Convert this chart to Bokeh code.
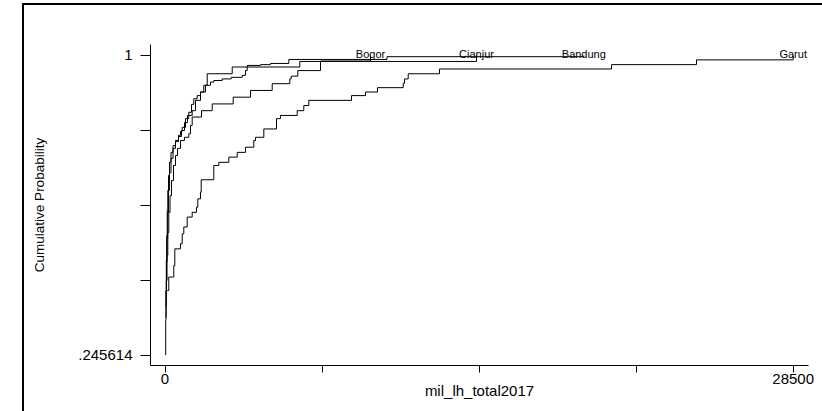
from bokeh.plotting import figure
from bokeh.models import FixedTicker, Range1d, InlineStyleSheet
from bokeh.embed import file_html
from bokeh.resources import INLINE
from bokeh.core.properties import value

# ---- data ----
districts = ["Bogor", "Cianjur", "Bandung", "Garut"]

bogor_x = [36, 59, 91, 127, 172, 227, 295, 386, 476, 567, 703, 885, 1080, 1157, 1234,
           1656, 2141, 3094, 3879, 4864, 5662, 5726, 6025, 7055, 9324]
bogor_y = [0.370, 0.433, 0.496, 0.554, 0.605, 0.647, 0.685, 0.723, 0.748, 0.766, 0.786,
           0.794, 0.803, 0.824, 0.845, 0.861, 0.878, 0.895, 0.912, 0.929, 0.941, 0.948,
           0.962, 0.986, 1.0]

cianjur_x = [32, 50, 68, 91, 122, 159, 204, 272, 363, 476, 613, 749, 885, 1021, 1234,
             1384, 1611, 1838, 2064, 2214, 2595, 3003, 3503, 3652, 3729, 6116, 14133]
cianjur_y = [0.340, 0.408, 0.479, 0.539, 0.605, 0.660, 0.705, 0.741, 0.766, 0.783, 0.796,
             0.811, 0.831, 0.849, 0.861, 0.887, 0.908, 0.925, 0.933, 0.937, 0.941, 0.945,
             0.950, 0.962, 0.971, 0.985, 1.0]

bandung_x = [23, 32, 45, 59, 77, 100, 127, 159, 204, 272, 363, 476, 613, 703, 780, 930,
             1080, 1202, 1307, 1461, 1611, 1760, 1915, 3049, 3729, 4333, 4787, 5617,
             10072, 19001]
bandung_y = [0.245614, 0.333, 0.408, 0.484, 0.547, 0.610, 0.660, 0.698, 0.731, 0.756,
             0.773, 0.786, 0.799, 0.809, 0.819, 0.841, 0.857, 0.877, 0.891, 0.899, 0.908,
             0.925, 0.954, 0.971, 0.975, 0.977, 0.980, 0.990, 0.997, 1.0]

garut_x = [100, 172, 399, 445, 703, 780, 853, 1007, 1234, 1429, 1488, 1611, 1642, 2214,
           2441, 2895, 3276, 3652, 4029, 4106, 4483, 5059, 5240, 5998, 6297, 6524, 8461,
           9097, 9641, 10807, 10866, 11034, 12454, 20258, 24114, 28500]
garut_y = [0.408, 0.442, 0.471, 0.513, 0.526, 0.551, 0.568, 0.593, 0.605, 0.618, 0.639,
           0.656, 0.687, 0.723, 0.731, 0.744, 0.756, 0.769, 0.786, 0.794, 0.815, 0.841,
           0.849, 0.861, 0.874, 0.887, 0.899, 0.908, 0.919, 0.930, 0.941, 0.954, 0.966,
           0.977, 0.989, 1.0]

series_x = [bogor_x, cianjur_x, bandung_x, garut_x]
series_y = [bogor_y, cianjur_y, bandung_y, garut_y]

y_major = [0.245614, 1.0]
y_major_labels = [".245614", "1"]
y_minor = [0.434211, 0.622807, 0.811404]
x_major = [0, 28500]
x_major_labels = ["0", "28500"]
x_minor = [7125, 14250, 21375]

x_title = "mil_lh_total2017"
y_title = "Cumulative Probability"

# ---- figure ----
FONT = "Liberation Sans"
p = figure(width=822, height=411, output_backend="svg", toolbar_location=None,
           x_range=Range1d(-658, 29195), y_range=Range1d(0.2192, 1.0277),
           min_border_left=150, min_border_right=14, min_border_top=44,
           min_border_bottom=46, background_fill_color=None,
           border_fill_color=None)
p.xgrid.visible = False
p.ygrid.visible = False
p.outline_line_color = None

for xs, ys in zip(series_x, series_y):
    p.step(xs, ys, mode="after", line_color="black", line_width=1)

ends = [xs[-1] for xs in series_x]
p.text(x=ends, y=[ys[-1] for ys in series_y], text=districts, text_align="center",
       text_baseline="alphabetic", y_offset=-1, text_font=value(FONT),
       text_font_size="11px", text_color="black")

# axes
p.yaxis.ticker = FixedTicker(ticks=y_major, minor_ticks=y_minor)
p.yaxis.major_label_overrides = dict(zip(y_major, y_major_labels))
p.xaxis.ticker = FixedTicker(ticks=x_major, minor_ticks=x_minor)
p.xaxis.major_label_overrides = dict(zip(x_major, x_major_labels))

for ax in (p.xaxis[0], p.yaxis[0]):
    ax.axis_line_color = "black"
    ax.major_tick_line_color = "black"
    ax.minor_tick_line_color = "black"
    ax.major_tick_in = 0
    ax.minor_tick_in = 0
    ax.major_label_text_font = FONT
    ax.major_label_text_font_size = "15px"
    ax.major_label_text_color = "black"
    ax.axis_label_text_font = FONT
    ax.axis_label_text_font_style = "normal"
    ax.axis_label_text_color = "black"

p.yaxis.major_tick_out = 10
p.yaxis.minor_tick_out = 10
p.yaxis.major_label_standoff = 8
p.yaxis.axis_label = y_title
p.yaxis.axis_label_text_font_size = "13.5px"
p.yaxis.axis_label_standoff = 28

p.xaxis.major_tick_out = 7
p.xaxis.minor_tick_out = 7
p.xaxis.major_label_standoff = 1
p.xaxis.axis_label = x_title
p.xaxis.axis_label_text_font_size = "15px"
p.xaxis.axis_label_standoff = -5

# outer graph border (left and top edges), painted as the host's background
# underneath the transparent canvas
p.css_classes = ["outer-frame"]
p.stylesheets = [InlineStyleSheet(css="""
:host(.outer-frame) {
  background-color: #fff;
  background-image: linear-gradient(#000, #000), linear-gradient(#000, #000);
  background-position: 22px 3px, 22px 3px;
  background-size: 2px 100%, 800px 2px;
  background-repeat: no-repeat;
}
""")]

open("out.html", "w").write(file_html(p, INLINE))
